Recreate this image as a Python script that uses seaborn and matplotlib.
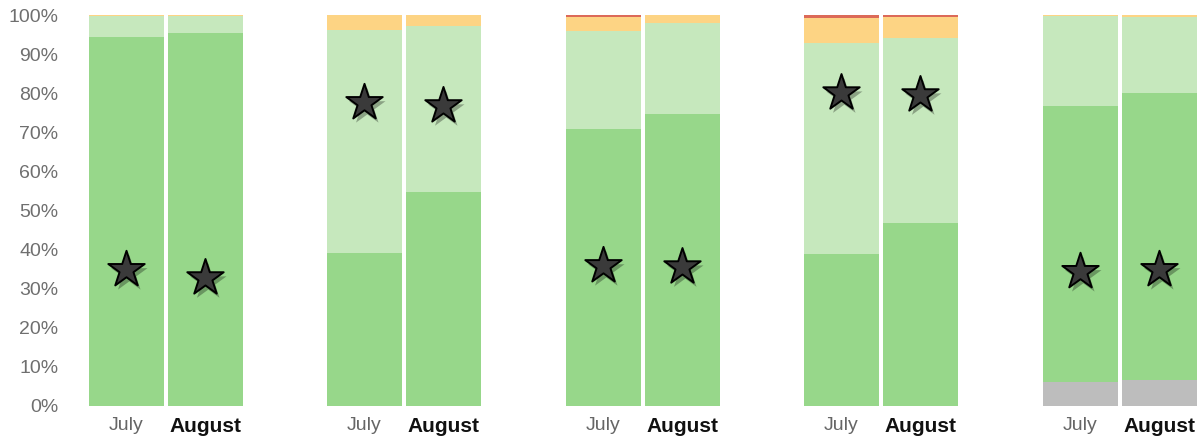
import numpy as np
import pandas as pd
import seaborn as sns
import matplotlib.pyplot as plt
from matplotlib import patheffects as pe

# Share of each status category (percent), one pair (July, August) per panel
months = ["July", "August"]
gray = [[0.0, 0.0], [0.0, 0.0], [0.0, 0.0], [0.0, 0.0], [6.1, 6.6]]
dark_green = [[94.4, 95.4], [39.1, 54.7], [70.8, 74.7], [38.9, 46.8], [70.6, 73.5]]
light_green = [[5.4, 4.4], [57.1, 42.4], [25.1, 23.3], [53.9, 47.3], [23.1, 19.5]]
orange = [[0.2, 0.2], [3.8, 2.9], [3.6, 2.0], [6.4, 5.5], [0.3, 0.4]]
red = [[0.0, 0.0], [0.0, 0.0], [0.5, 0.0], [0.8, 0.4], [0.0, 0.0]]

# Star markers placed on each bar (percent height)
star_values = [[34.8, 32.7], [77.5, 76.7], [35.8, 35.5], [80.0, 79.5], [34.3, 34.8]]

y_ticks = list(range(0, 101, 10))
y_tick_labels = [f"{t}%" for t in y_ticks]

segments = [
    ("gray", gray, "#bdbdbd"),
    ("dark_green", dark_green, "#97d78a"),
    ("light_green", light_green, "#c6e8bd"),
    ("orange", orange, "#fdd484"),
    ("red", red, "#dc6a58"),
]

sns.set_theme(style="white")
plt.rcParams["font.family"] = ["Liberation Sans", "DejaVu Sans"]

W, H = 1204, 441
fig = plt.figure(figsize=(W / 100, H / 100), dpi=100)

panel_left = [89, 327, 566, 804, 1043]
bar_w = 0.95

for g in range(len(dark_green)):
    ax = fig.add_axes([panel_left[g] / W, 35 / H, 154 / W, 391 / H])

    # cumulative tops of each stacked segment
    rows = []
    for m_i, m in enumerate(months):
        cum = 0.0
        for name, vals, color in segments:
            v = vals[g][m_i]
            cum += v
            rows.append({"month": m, "segment": name, "value": v, "top": cum})
    df = pd.DataFrame(rows)

    # draw from the highest segment down so lower ones cover the upper parts
    for name, vals, color in reversed(segments):
        sub = df[(df["segment"] == name) & (df["value"] > 0)]
        if sub.empty:
            continue
        sns.barplot(data=sub, x="month", y="top", order=months, color=color,
                    saturation=1, width=bar_w, linewidth=0, ax=ax, errorbar=None)

    stars = pd.DataFrame({"month": months, "value": star_values[g]})
    ax.scatter(range(len(months)), stars["value"], marker="*", s=760,
               c="#3a3a3a", edgecolors="black", linewidths=1.4, zorder=5,
               path_effects=[pe.withSimplePatchShadow(offset=(2, -3),
                                                      shadow_rgbFace="black",
                                                      alpha=0.3)])

    ax.set_xlim(-bar_w / 2, len(months) - 1 + bar_w / 2)
    ax.set_ylim(0, 100)
    ax.set_xlabel("")
    ax.set_ylabel("")
    for s in ax.spines.values():
        s.set_visible(False)
    ax.tick_params(axis="both", length=0)

    ax.set_xticks(range(len(months)))
    ax.set_xticklabels(months)
    ax.tick_params(axis="x", pad=8)
    for lab in ax.get_xticklabels():
        if lab.get_text() == "August":
            lab.set_fontweight("bold")
            lab.set_color("#111111")
            lab.set_fontsize(15)
        else:
            lab.set_color("#666666")
            lab.set_fontsize(14)

    if g == 0:
        ax.set_yticks(y_ticks)
        ax.set_yticklabels(y_tick_labels, color="#6f6f6f", fontsize=14)
        ax.tick_params(axis="y", pad=22)
    else:
        ax.set_yticks([])

fig.savefig("out.png", dpi=100)
